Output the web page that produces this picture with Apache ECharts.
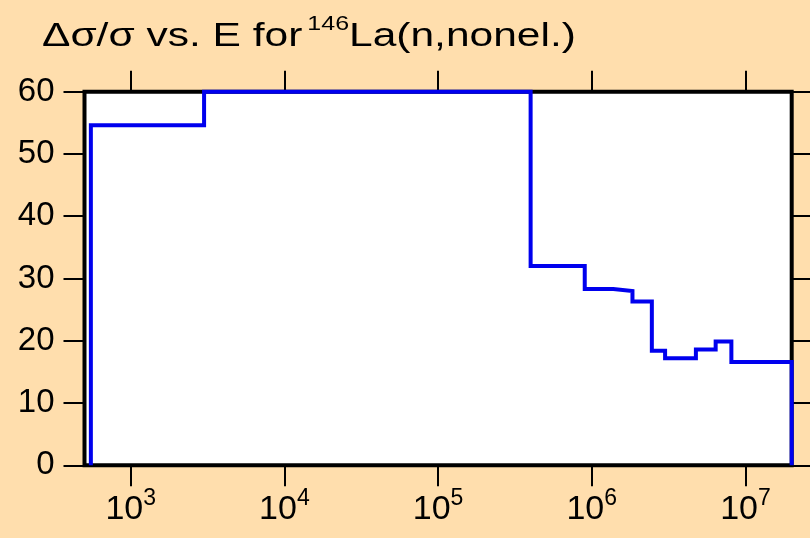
<!DOCTYPE html>
<html>
<head>
<meta charset="utf-8">
<script src="https://cdn.jsdelivr.net/npm/echarts@6/dist/echarts.min.js"></script>
<style>
  html, body { margin: 0; padding: 0; background: #FFDEAD; }
  #chart { width: 810px; height: 538px; }
</style>
</head>
<body>
<div id="chart"></div>
<script>
// Energy group boundaries (eV) and relative uncertainty (%) in each group
const binEdges = [550, 3000, 4.0e5, 9.0e5, 1.38e6, 1.84e6, 2.46e6, 3.0e6, 4.76e6, 6.4e6, 8.1e6, 2.0e7];
const binValues = [54.6, 60, 32.0, 28.3, 28.0, 26.3, 18.4, 17.2, 18.6, 19.9, 16.6];

// Axis ticks
const xTickValues = [1e3, 1e4, 1e5, 1e6, 1e7];
const yTickValues = [0, 10, 20, 30, 40, 50, 60];

// Histogram outline: rises from zero at the first edge, falls to zero at the last
const stepPoints = [[binEdges[0], 0]];
binValues.forEach((v, i) => stepPoints.push([binEdges[i], v]));
stepPoints.push([binEdges[binEdges.length - 1], 0]);

const FONT = '"Liberation Sans", Arial, Helvetica, sans-serif';
const tickStyle = { color: '#000', width: 2 };

const chart = echarts.init(document.getElementById('chart'), null, { renderer: 'canvas' });

const xBase = {
  type: 'log',
  logBase: 10,
  min: 500,
  max: 2e7,
  axisLine: { show: false, onZero: false },
  splitLine: { show: false },
  minorTick: { show: false },
  axisTick: { show: true, inside: false, length: 21, lineStyle: tickStyle, customValues: xTickValues }
};
const yBase = {
  type: 'value',
  min: 0,
  max: 60,
  interval: 10,
  axisLine: { show: false, onZero: false },
  splitLine: { show: false },
  axisTick: { show: true, inside: false, length: 21, lineStyle: tickStyle, customValues: yTickValues }
};

chart.setOption({
  backgroundColor: '#FFDEAD',
  animation: false,
  grid: {
    left: 84.5, right: 18.3, top: 91.7, bottom: 72.7,
    show: true,
    backgroundColor: '#ffffff',
    borderColor: '#000000',
    borderWidth: 4
  },
  graphic: [{
    type: 'text',
    x: 42,
    y: 14,
    scaleX: 1.25,
    style: {
      text: '{m|Δσ/σ vs. E for}{s|146}{m|La(n,nonel.)}',
      fill: '#000',
      rich: {
        m: { fontSize: 34, fontFamily: FONT, verticalAlign: 'bottom', lineHeight: 40 },
        s: { fontSize: 20, fontFamily: FONT, verticalAlign: 'bottom', padding: [0, 0, 20, 4], lineHeight: 20 }
      }
    }
  }],
  xAxis: [
    Object.assign({}, xBase, {
      position: 'bottom',
      axisLabel: {
        show: true,
        customValues: xTickValues,
        margin: 27,
        formatter: (v) => '{b|10}{s|' + Math.round(Math.log10(v)) + '}',
        rich: {
          b: { fontSize: 34, fontFamily: FONT, color: '#000', verticalAlign: 'bottom', lineHeight: 34 },
          s: { fontSize: 23, fontFamily: FONT, color: '#000', verticalAlign: 'bottom', padding: [0, 0, 16, 0], lineHeight: 23 }
        }
      }
    }),
    Object.assign({}, xBase, {
      position: 'top',
      axisLabel: { show: false }
    })
  ],
  yAxis: [
    Object.assign({}, yBase, {
      position: 'left',
      axisLabel: {
        show: true,
        margin: 30,
        fontSize: 33,
        fontFamily: FONT,
        color: '#000'
      }
    }),
    Object.assign({}, yBase, {
      position: 'right',
      axisLabel: { show: false }
    })
  ],
  series: [{
    type: 'line',
    xAxisIndex: 0,
    yAxisIndex: 0,
    data: stepPoints,
    step: 'end',
    showSymbol: false,
    symbol: 'none',
    clip: false,
    lineStyle: { color: '#0000ee', width: 4, join: 'miter', cap: 'butt' }
  }]
});
</script>
</body>
</html>
